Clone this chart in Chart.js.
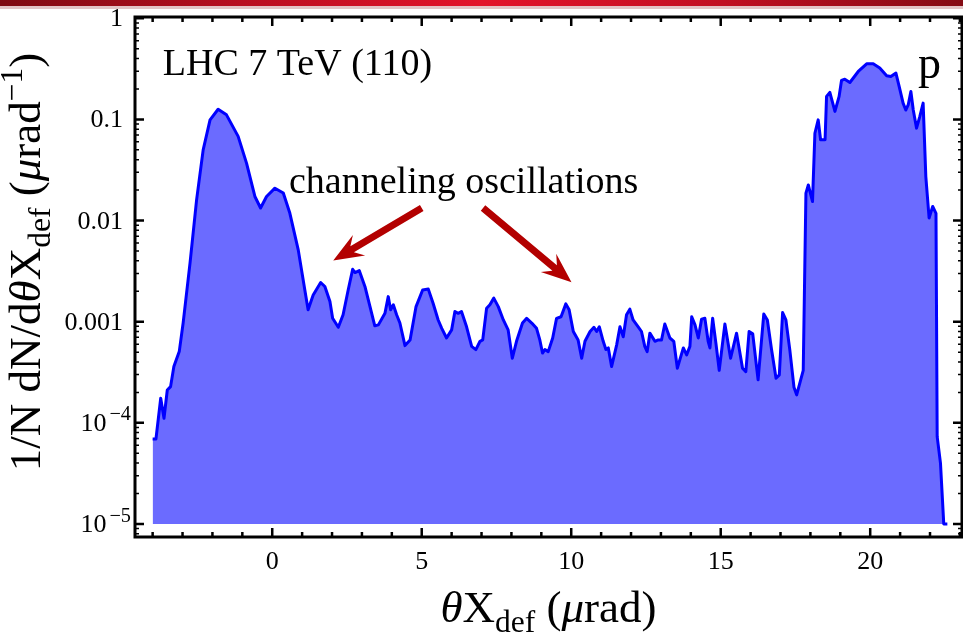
<!DOCTYPE html>
<html>
<head>
<meta charset="utf-8">
<script src="https://cdn.jsdelivr.net/npm/chart.js@4.4.1/dist/chart.umd.min.js"></script>
<style>
  html, body { margin: 0; padding: 0; background: #fff; }
  #wrap { position: relative; width: 963px; height: 637px; overflow: hidden; }
  #band {
    position: absolute; left: 0; top: 0; width: 963px; height: 6px;
    background: linear-gradient(90deg, #7e0a12 0%, #b80e20 25%, #e3132a 50%, #c10f22 75%, #850b14 100%);
    border-bottom: 3px solid #e2c4c6;
  }
</style>
</head>
<body>
<div id="wrap">
  <canvas id="chart" width="963" height="637"></canvas>
  <div id="band"></div>
</div>
<script>
// Deflection angle distribution, LHC 7 TeV protons, Si (110)

const thetaX = [
  -4.00, -3.89, -3.73, -3.62, -3.51, -3.40, -3.29, -3.11, -2.98, -2.75,
  -2.53, -2.31, -2.08, -1.81, -1.53, -1.14, -0.86, -0.58, -0.39, -0.19,
  0.09, 0.37, 0.59, 0.87, 1.09,
  1.20, 1.37, 1.62, 1.76, 1.93, 2.02, 2.21, 2.37, 2.54, 2.69,
  2.77, 2.91, 3.10, 3.27, 3.43, 3.55, 3.77, 3.88, 3.96, 4.05,
  4.16, 4.27, 4.44, 4.61, 4.81, 5.03, 5.22, 5.38, 5.55, 5.67,
  5.83, 6.00,
  6.11, 6.22, 6.33, 6.50, 6.67, 6.81, 6.95, 7.04, 7.17, 7.28,
  7.41, 7.56, 7.73, 7.89, 8.03, 8.17, 8.37, 8.51, 8.68, 8.84,
  8.95, 9.04, 9.12, 9.23, 9.38, 9.51, 9.66, 9.82, 9.93, 10.07,
  10.23, 10.35, 10.46, 10.63, 10.76, 10.85, 10.94, 11.07, 11.16, 11.24,
  11.35,
  11.52, 11.63, 11.74, 11.85, 11.96, 12.07, 12.24, 12.35, 12.46, 12.54,
  12.63, 12.80, 12.91, 13.02, 13.13, 13.30, 13.43, 13.55, 13.75, 13.86,
  13.97, 14.03, 14.14, 14.25, 14.36, 14.47, 14.58, 14.64, 14.73, 14.84,
  14.95, 15.14, 15.33, 15.53, 15.73, 15.84, 15.95, 16.07, 16.25, 16.44,
  16.56, 16.70, 16.85, 16.96, 17.07, 17.18, 17.31, 17.45, 17.54, 17.76,
  17.85, 17.93, 18.07, 18.15, 18.26, 18.34, 18.49, 18.54, 18.65, 18.82,
  18.96, 19.04, 19.15, 19.32, 19.60, 19.88, 20.10, 20.32, 20.55, 20.69,
  20.86, 20.97, 21.10, 21.19, 21.27, 21.36, 21.44, 21.55, 21.66, 21.77,
  21.86, 21.97, 22.09, 22.20, 22.24, 22.35, 22.46, 22.58
];

const density = [
  6.9e-5, 6.9e-5, 1.75e-4, 1.11e-4, 2.11e-4, 2.28e-4, 3.6e-4, 5.06e-4, 9.7e-4, 3.79e-3,
  0.016, 0.050, 0.099, 0.126, 0.111, 0.068, 0.037, 0.0173, 0.0133, 0.0173,
  0.0209, 0.0187, 0.0118, 5.13e-3, 2.06e-3,
  1.31e-3, 1.84e-3, 2.44e-3, 2.23e-3, 1.58e-3, 1.08e-3, 8.8e-4, 1.17e-3, 2.06e-3, 3.30e-3,
  3.06e-3, 3.20e-3, 2.23e-3, 1.41e-3, 9.1e-4, 9.3e-4, 1.21e-3, 1.77e-3, 1.31e-3, 1.47e-3,
  1.17e-3, 9.7e-4, 5.8e-4, 6.6e-4, 1.41e-3, 2.06e-3, 2.10e-3, 1.52e-3, 1.04e-3, 8.6e-4,
  6.9e-4, 8.3e-4,
  1.26e-3, 1.21e-3, 1.26e-3, 8.9e-4, 5.7e-4, 5.3e-4, 6.4e-4, 6.6e-4, 1.36e-3, 1.47e-3,
  1.71e-3, 1.41e-3, 1.04e-3, 8.3e-4, 4.35e-4, 6.4e-4, 9.7e-4, 1.08e-3, 9.7e-4, 8.6e-4,
  6.6e-4, 4.9e-4, 5.3e-4, 5.06e-4, 6.9e-4, 1.08e-3, 1.12e-3, 1.50e-3, 1.31e-3, 8.0e-4,
  6.6e-4, 4.35e-4, 6.4e-4, 8.0e-4, 8.8e-4, 8.0e-4, 8.9e-4, 6.4e-4, 5.3e-4, 5.5e-4,
  3.6e-4,
  5.9e-4, 8.9e-4, 7.1e-4, 1.17e-3, 1.33e-3, 1.04e-3, 8.9e-4, 8.0e-4, 5.7e-4, 5.06e-4,
  7.7e-4, 6.4e-4, 6.6e-4, 6.6e-4, 9.5e-4, 6.9e-4, 6.4e-4, 3.47e-4, 5.5e-4, 4.7e-4,
  5.7e-4, 1.12e-3, 9.3e-4, 6.9e-4, 1.06e-3, 1.08e-3, 6.4e-4, 5.5e-4, 1.08e-3, 6.1e-4,
  3.3e-4, 9.5e-4, 4.35e-4, 7.7e-4, 3.47e-4, 3.2e-4, 8.0e-4, 7.6e-4, 2.66e-4, 1.19e-3,
  1.04e-3, 5.3e-4, 2.76e-4, 2.98e-4, 1.23e-3, 1.04e-3, 5.3e-4, 2.25e-4, 1.89e-4, 3.3e-4,
  0.0187, 0.0225, 0.0154, 0.073, 0.099, 0.063, 0.063, 0.169, 0.185, 0.120,
  0.169, 0.243, 0.250, 0.232, 0.298, 0.355, 0.355, 0.322, 0.270, 0.266,
  0.287, 0.211, 0.145, 0.124, 0.139, 0.189, 0.124, 0.082, 0.107, 0.145,
  0.0272, 0.0106, 0.0138, 0.0118, 7.3e-5, 4.0e-5, 1.0e-5, 1.0e-5
];

const xTickValues = [0, 5, 10, 15, 20];
const xTickLabels = ['0', '5', '10', '15', '20'];
const yTickValues = [1e-5, 1e-4, 1e-3, 1e-2, 1e-1, 1];
const yTickLabels = [['10', '−5'], ['10', '−4'], ['0.001'], ['0.01'], ['0.1'], ['1']];

// text and arrows placed in data coordinates
const notes = [
  { text: 'LHC 7 TeV (110)', x: -3.66, y: 0.276, size: 38 },
  { text: 'channeling oscillations', x: 0.56, y: 0.0188, size: 38 },
  { text: 'p', x: 21.6, y: 0.258, size: 46 }
];
const arrows = [
  { from: [5.0, 0.0133], to: [2.04, 0.00402] },
  { from: [7.05, 0.0133], to: [10.01, 0.00246] }
];

const SERIF = '"Liberation Serif", "Times New Roman", serif';
const font = (size, italic) => `${italic ? 'italic ' : ''}${size}px ${SERIF}`;

// rich text: parts = [{t, it, sub, sup, gap}]
function layoutRich(ctx, parts, size, supScale) {
  let w = 0;
  const out = parts.map(p => {
    const s = (p.sub || p.sup) ? size * (p.sup ? supScale : 0.7) : size;
    ctx.font = font(s, p.it);
    w += p.gap || 0;
    const pw = ctx.measureText(p.t).width;
    const dy = p.sub ? size * 0.22 : p.sup ? -size * 0.4 : 0;
    const item = { ...p, s, dx: w, dy, w: pw };
    w += pw;
    return item;
  });
  return { items: out, width: w };
}

function drawRich(ctx, parts, x, y, size, align, supScale = 0.7) {
  const { items, width } = layoutRich(ctx, parts, size, supScale);
  const x0 = align === 'center' ? x - width / 2 : align === 'right' ? x - width : x;
  ctx.textAlign = 'left';
  items.forEach(it => {
    ctx.font = font(it.s, it.it);
    ctx.fillText(it.t, x0 + it.dx, y + it.dy);
  });
}

function drawArrow(ctx, x0, y0, x1, y1) {
  const dx = x1 - x0, dy = y1 - y0;
  const len = Math.hypot(dx, dy);
  const ux = dx / len, uy = dy / len;
  const nx = -uy, ny = ux;
  const sw = 3.5, headLen = 30, neck = 22, hw = 12;
  const pt = (a, b) => [x1 - ux * a + nx * b, y1 - uy * a + ny * b];
  const poly = [
    [x0 + nx * sw, y0 + ny * sw],
    pt(neck, sw), pt(headLen, hw), [x1, y1], pt(headLen, -hw), pt(neck, -sw),
    [x0 - nx * sw, y0 - ny * sw]
  ];
  ctx.beginPath();
  poly.forEach(([px, py], i) => (i ? ctx.lineTo(px, py) : ctx.moveTo(px, py)));
  ctx.closePath();
  ctx.fillStyle = '#b30000';
  ctx.fill();
}

const framePlugin = {
  id: 'framePlugin',
  afterDatasetsDraw(chart) {
    const ctx = chart.ctx;
    const { left, right, top, bottom } = chart.chartArea;
    const xs = chart.scales.x, ys = chart.scales.y;
    ctx.save();
    ctx.strokeStyle = '#000';
    ctx.fillStyle = '#000';

    // ticks pointing into the frame
    ctx.lineWidth = 2.5;
    for (let v = Math.ceil(xs.min); v <= xs.max; v++) {
      const px = xs.getPixelForValue(v);
      const len = v % 5 === 0 ? 9 : 5;
      ctx.beginPath();
      ctx.moveTo(px, bottom); ctx.lineTo(px, bottom - len);
      ctx.moveTo(px, top); ctx.lineTo(px, top + len);
      ctx.stroke();
    }
    yTickValues.forEach(v => {
      const py = ys.getPixelForValue(v);
      ctx.beginPath();
      ctx.moveTo(left, py); ctx.lineTo(left + 9, py);
      ctx.moveTo(right, py); ctx.lineTo(right - 9, py);
      ctx.stroke();
    });
    ctx.lineWidth = 1.5;
    for (let k = -6; k < 0; k++) {
      for (let m = 2; m <= 9; m++) {
        const v = m * Math.pow(10, k);
        if (v < ys.min || v > ys.max) continue;
        const py = ys.getPixelForValue(v);
        ctx.beginPath();
        ctx.moveTo(left, py); ctx.lineTo(left + 4, py);
        ctx.moveTo(right, py); ctx.lineTo(right - 4, py);
        ctx.stroke();
      }
    }

    // frame
    ctx.lineWidth = 3;
    ctx.strokeRect(left, top, right - left, bottom - top);

    // tick labels
    ctx.textBaseline = 'alphabetic';
    ctx.font = font(26);
    ctx.textAlign = 'center';
    xTickValues.forEach((v, i) => {
      ctx.fillText(xTickLabels[i], xs.getPixelForValue(v), 569);
    });
    yTickValues.forEach((v, i) => {
      const py = ys.getPixelForValue(v) + 8;
      const lab = yTickLabels[i];
      if (lab.length === 1) {
        ctx.font = font(26);
        ctx.textAlign = 'right';
        ctx.fillText(lab[0], 123, py);
      } else {
        drawRich(ctx, [{ t: lab[0] }, { t: lab[1], sup: true, gap: 3 }], 131, py, 26, 'right', 0.78);
      }
    });

    // axis titles
    drawRich(ctx, [
      { t: 'θ', it: true }, { t: 'X' }, { t: 'def', sub: true },
      { t: ' (' }, { t: 'μ', it: true }, { t: 'rad)' }
    ], (left + right) / 2, 622, 45, 'center');

    ctx.save();
    ctx.translate(40, 262);
    ctx.rotate(-Math.PI / 2);
    drawRich(ctx, [
      { t: '1/N dN/d' }, { t: 'θ', it: true }, { t: 'X' }, { t: 'def', sub: true },
      { t: ' (' }, { t: 'μ', it: true }, { t: 'rad' }, { t: '−1', sup: true }, { t: ')' }
    ], 0, 0, 45, 'center');
    ctx.restore();

    // annotations
    notes.forEach(n => {
      ctx.font = font(n.size);
      ctx.textAlign = 'left';
      ctx.fillText(n.text, xs.getPixelForValue(n.x), ys.getPixelForValue(n.y));
    });
    arrows.forEach(a => {
      drawArrow(ctx,
        xs.getPixelForValue(a.from[0]), ys.getPixelForValue(a.from[1]),
        xs.getPixelForValue(a.to[0]), ys.getPixelForValue(a.to[1]));
    });
    ctx.restore();
  }
};

new Chart(document.getElementById('chart'), {
  type: 'line',
  data: {
    datasets: [{
      data: thetaX.map((x, i) => ({ x, y: density[i] })),
      borderColor: '#0000ff',
      borderWidth: 3,
      backgroundColor: '#6b6bff',
      fill: { value: 1e-5 },
      pointRadius: 0,
      tension: 0,
      borderJoinStyle: 'round'
    }]
  },
  options: {
    responsive: false,
    animation: false,
    layout: { padding: { top: 17, right: 1, left: 0, bottom: 0 } },
    plugins: { legend: { display: false }, tooltip: { enabled: false } },
    scales: {
      x: {
        type: 'linear', min: -4.59, max: 23.07,
        ticks: { display: false }, grid: { display: false }, border: { display: false },
        afterFit: s => { s.height = 100; }
      },
      y: {
        type: 'logarithmic', min: 7.43e-6, max: 1.03,
        ticks: { display: false }, grid: { display: false }, border: { display: false },
        afterFit: s => { s.width = 135; }
      }
    }
  },
  plugins: [framePlugin]
});
</script>
</body>
</html>
